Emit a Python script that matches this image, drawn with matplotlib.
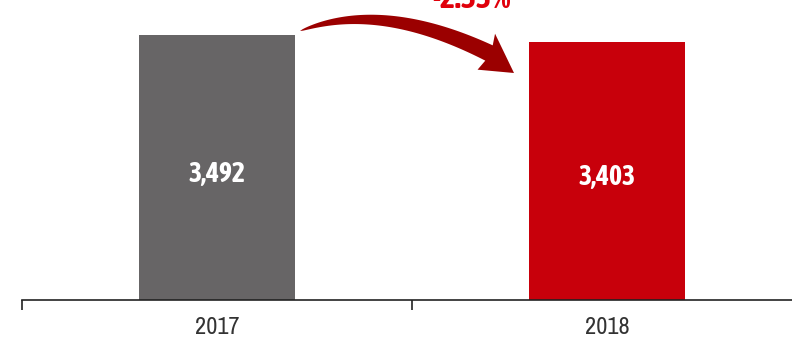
import matplotlib
matplotlib.use("Agg")
import matplotlib.pyplot as plt
from matplotlib.patches import Polygon
import numpy as np

categories = ["2017", "2018"]
values = [3492, 3403]
labels = ["3,492", "3,403"]
change_label = "-2.55%"
colors = ["#676566", "#C8000B"]

W, H = 792, 340
fig = plt.figure(figsize=(W/100, H/100), dpi=100)
ax = fig.add_axes([22/W, 40/H, 780/W, 300/H])
x = list(range(len(categories)))
ax.bar(x, values, width=0.4, color=colors, zorder=2)
ax.set_xlim(-0.5, 1.5)
ax.set_ylim(0, 3953)
for xi, v, lab in zip(x, values, labels):
    ax.text(xi, v*0.475, lab, ha="center", va="center", color="white",
            fontsize=20, fontweight="bold",
            family=["Asap Condensed", "DejaVu Sans"])
for s in ["top", "right", "left"]:
    ax.spines[s].set_visible(False)
ax.spines["bottom"].set_color("#222222")
ax.spines["bottom"].set_linewidth(1.2)
ax.set_yticks([])
ax.set_xticks([-0.5, 0.5, 1.5])
ax.set_xticklabels([])
ax.set_xticks(x, minor=True)
ax.set_xticklabels(categories, minor=True, fontsize=17.5, color="#333333",
                   family=["Archivo Narrow", "DejaVu Sans"])
ax.tick_params(axis="x", which="major", length=7, width=1.2, color="#222222", direction="out")
ax.tick_params(axis="x", which="minor", length=0, pad=12)

# curved tapered arrow (annotation shape, in figure pixel coords)
P0 = np.array([300.0, 31.0]); C = np.array([380.0, 0.0]); P2 = np.array([489.0, 53.0])
tip = np.array([514.0, 73.0])
t = np.linspace(0, 1, 60)
pts = ((1-t)**2)[:, None]*P0 + (2*(1-t)*t)[:, None]*C + (t**2)[:, None]*P2
der = (2*(1-t))[:, None]*(C-P0) + (2*t)[:, None]*(P2-C)
der /= np.linalg.norm(der, axis=1)[:, None]
nrm = np.stack([-der[:, 1], der[:, 0]], axis=1)
hw = 8.5 * t**0.6
upper = pts + nrm*hw[:, None]
lower = pts - nrm*hw[:, None]
d = der[-1]; n = nrm[-1]
wing1 = P2 + n*20 - d*3
wing2 = P2 - n*20 - d*3
poly = np.vstack([upper, wing1, tip, wing2, lower[::-1]])
poly_fig = np.column_stack([poly[:, 0]/W, 1 - poly[:, 1]/H])
fig.patches.append(Polygon(poly_fig, closed=True, transform=fig.transFigure,
                           facecolor="#9B0000", edgecolor="none", zorder=5))

fig.text(472/W, 1 - (-1)/H, change_label, ha="center", va="center", color="#E0000B",
         fontsize=23, fontweight="bold", family=["Asap Condensed", "DejaVu Sans"])

fig.savefig("out.png", dpi=100)
